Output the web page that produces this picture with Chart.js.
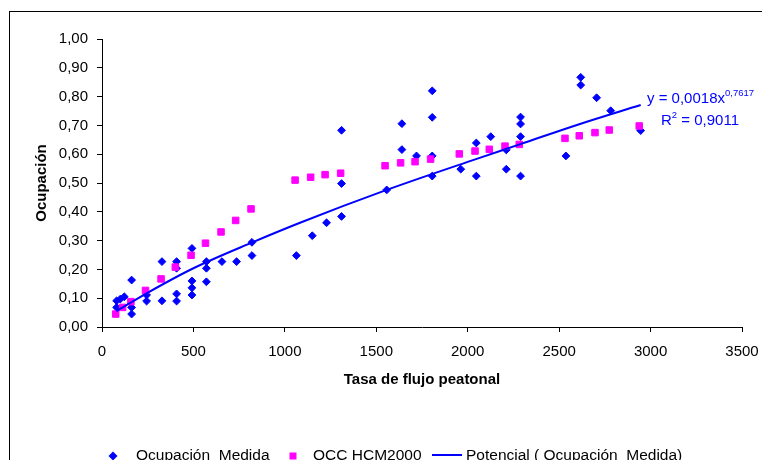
<!DOCTYPE html>
<html lang="es">
<head>
<meta charset="UTF-8">
<title>Ocupación vs Tasa de flujo peatonal</title>
<script src="https://cdn.jsdelivr.net/npm/chart.js"></script>
<style>
  html, body { margin: 0; padding: 0; background: #fff; overflow: hidden; }
  #wrap { position: relative; width: 762px; height: 460px; overflow: hidden; }
  #frame { position: absolute; left: 9px; top: 11px; width: 800px; height: 500px; border: 1px solid #000; box-sizing: border-box; }
  canvas { position: absolute; left: 0; top: 0; }
  .eq { position: absolute; color: #0000ff; font: 15px "Liberation Sans", Arial, sans-serif; line-height: 15px; white-space: nowrap; }
  .eq sup { font-size: 9.5px; line-height: 0; vertical-align: 7px; }
</style>
</head>
<body>
<div id="wrap">
  <div id="frame"></div>
  <canvas id="grafico" width="762" height="460"></canvas>
  <div class="eq" style="left:647px; top:90px;">y = 0,0018x<sup>0,7617</sup></div>
  <div class="eq" style="left:661px; top:112px;">R<sup>2</sup> = 0,9011</div>
</div>
<script>
// Ocupación medida (rombos azules)
const flujoMedida = [80, 80, 100, 122, 162, 162, 162, 244, 244, 328, 328, 408, 408, 408, 408,
  492, 492, 492, 492, 571, 571, 571, 656, 736, 820, 820, 1063, 1150, 1228, 1310, 1310, 1310,
  1557, 1640, 1640, 1720, 1806, 1806, 1806, 1806, 1962, 2047, 2047, 2126, 2211, 2211,
  2289, 2289, 2289, 2289, 2537, 2618, 2618, 2705, 2782, 2946];
const ocupMedida = [0.091, 0.068, 0.097, 0.105, 0.163, 0.068, 0.045, 0.111, 0.090, 0.227, 0.091, 0.227, 0.204, 0.115, 0.090,
  0.273, 0.160, 0.136, 0.111, 0.227, 0.204, 0.157, 0.227, 0.227, 0.294, 0.248, 0.248, 0.317, 0.362, 0.384, 0.498, 0.683,
  0.476, 0.706, 0.616, 0.594, 0.820, 0.728, 0.594, 0.524, 0.548, 0.639, 0.524, 0.661, 0.615, 0.548,
  0.729, 0.705, 0.661, 0.524, 0.594, 0.867, 0.840, 0.796, 0.751, 0.682];

// OCC HCM2000 (cuadrados rosas)
const flujoHcm = [75, 113, 158, 238, 323, 401, 487, 566, 651, 731, 815, 1056, 1141, 1220, 1305,
  1548, 1633, 1712, 1797, 1954, 2040, 2118, 2204, 2282, 2532, 2610, 2696, 2774, 2938];
const ocupHcm = [0.045, 0.068, 0.088, 0.127, 0.167, 0.208, 0.249, 0.291, 0.330, 0.370, 0.410, 0.510, 0.520, 0.529, 0.534,
  0.560, 0.570, 0.574, 0.583, 0.601, 0.611, 0.617, 0.628, 0.634, 0.655, 0.664, 0.675, 0.684, 0.698];

// linea de tendencia potencial
const flujoTendencia = [78, 244, 500, 819, 1083, 1557, 2045, 2288, 2614, 2946];
const ocupTendencia = [0.055, 0.117, 0.204, 0.293, 0.362, 0.476, 0.583, 0.635, 0.705, 0.771];

const etiquetas = ['Ocupación  Medida', 'OCC HCM2000', 'Potencial ( Ocupación  Medida)'];

function pares(xs, ys) {
  return xs.map((x, i) => ({ x: x, y: ys[i] }));
}

const fuente = '"Liberation Sans", Arial, sans-serif';

// leyenda dibujada a mano para colocarla como en el original
const leyenda = {
  id: 'leyenda',
  afterDraw(chart) {
    const ctx = chart.ctx;
    const ds = chart.data.datasets;
    const y = 456;
    ctx.save();
    ctx.font = '15.5px ' + fuente;
    ctx.textBaseline = 'middle';

    // rombo
    ctx.fillStyle = ds[0].backgroundColor;
    ctx.beginPath();
    ctx.moveTo(113, y - 4.5); ctx.lineTo(117.5, y); ctx.lineTo(113, y + 4.5); ctx.lineTo(108.5, y);
    ctx.closePath();
    ctx.fill();
    ctx.fillStyle = '#000';
    ctx.fillText(ds[0].label, 136, y);

    // cuadrado
    ctx.fillStyle = ds[1].backgroundColor;
    ctx.fillRect(289.5, y - 3.5, 7, 7);
    ctx.fillStyle = '#000';
    ctx.fillText(ds[1].label, 313, y);

    // linea
    ctx.strokeStyle = ds[2].borderColor;
    ctx.lineWidth = 2;
    ctx.beginPath();
    ctx.moveTo(432, y - 1); ctx.lineTo(462, y - 1);
    ctx.stroke();
    ctx.fillStyle = '#000';
    ctx.fillText(ds[2].label, 466, y);
    ctx.restore();
  }
};

const ctx = document.getElementById('grafico').getContext('2d');
const grafico = new Chart(ctx, {
  type: 'scatter',
  data: {
    datasets: [
      {
        label: etiquetas[0],
        data: pares(flujoMedida, ocupMedida),
        pointStyle: 'rectRot',
        pointRadius: 3.9,
        borderWidth: 1,
        backgroundColor: '#0000ff',
        borderColor: '#0000ff',
        order: 2
      },
      {
        label: etiquetas[1],
        data: pares(flujoHcm, ocupHcm),
        pointStyle: 'rect',
        pointRadius: 4.6,
        borderWidth: 1,
        backgroundColor: '#ff00ff',
        borderColor: '#ff00ff',
        order: 1
      },
      {
        label: etiquetas[2],
        data: pares(flujoTendencia, ocupTendencia),
        showLine: true,
        pointRadius: 0,
        borderColor: '#0000ff',
        backgroundColor: '#0000ff',
        borderWidth: 2,
        cubicInterpolationMode: 'monotone',
        order: 0
      }
    ]
  },
  options: {
    responsive: false,
    animation: false,
    devicePixelRatio: 1,
    layout: { padding: { left: 0, top: 39, right: 20, bottom: 63 } },
    plugins: {
      legend: { display: false },
      tooltip: { enabled: false }
    },
    scales: {
      x: {
        type: 'linear',
        min: 0,
        max: 3500,
        afterFit: s => { s.height = 70; s.paddingLeft = 0; s.paddingRight = 0; },
        ticks: {
          stepSize: 500,
          color: '#000',
          font: { family: fuente, size: 15 },
          padding: 11,
          maxRotation: 0,
          callback: v => String(v)
        },
        grid: { drawOnChartArea: false, drawTicks: true, tickLength: 5, color: '#000' },
        border: { display: true, color: '#000', width: 1 },
        title: {
          display: true,
          text: 'Tasa de flujo peatonal',
          color: '#000',
          font: { family: fuente, size: 15, weight: 'bold' },
          padding: { top: 0, bottom: 8 }
        }
      },
      y: {
        min: 0,
        max: 1,
        afterFit: s => { s.width = 102; },
        ticks: {
          stepSize: 0.1,
          color: '#000',
          font: { family: fuente, size: 15 },
          padding: 9,
          callback: v => v.toFixed(2).replace('.', ',')
        },
        grid: { drawOnChartArea: false, drawTicks: true, tickLength: 5, color: '#000' },
        border: { display: true, color: '#000', width: 1 },
        title: {
          display: true,
          text: 'Ocupación',
          color: '#000',
          font: { family: fuente, size: 15, weight: 'bold' },
          padding: { top: 33, bottom: 0 }
        }
      }
    }
  },
  plugins: [leyenda]
});
</script>
</body>
</html>
